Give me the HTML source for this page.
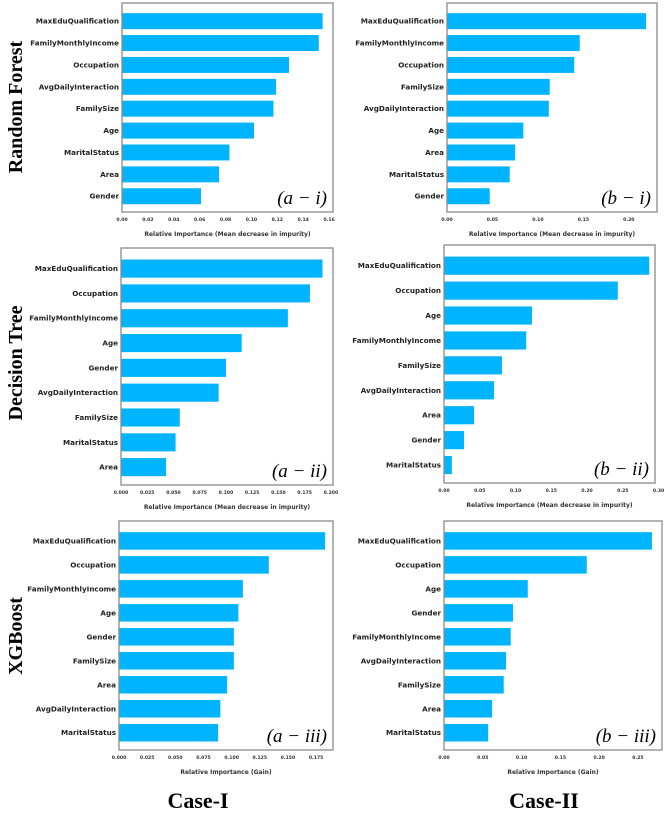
<!DOCTYPE html>
<html><head><meta charset="utf-8"><style>
html,body{margin:0;padding:0;background:#fff;}
svg{display:block;}
</style></head><body>
<svg id="fig" width="669" height="815" viewBox="0 0 669 815" xmlns="http://www.w3.org/2000/svg">
<g font-family="Liberation Serif, serif" font-weight="bold" font-size="20" fill="#000">
<text transform="translate(22,107) rotate(-90)" text-anchor="middle">Random Forest</text>
<text transform="translate(22,363) rotate(-90)" text-anchor="middle">Decision Tree</text>
<text transform="translate(22,636) rotate(-90)" text-anchor="middle">XGBoost</text>
<text x="198" y="808" text-anchor="middle" font-size="22">Case-I</text>
<text x="544" y="808" text-anchor="middle" font-size="22">Case-II</text>
</g>
</svg>
<script>
// Case-I Random Forest (a-i)
const catsAI = ["MaxEduQualification","FamilyMonthlyIncome","Occupation","AvgDailyInteraction","FamilySize","Age","MaritalStatus","Area","Gender"];
const valsAI = [0.155,0.152,0.129,0.119,0.117,0.102,0.083,0.075,0.061];
const ticksAI = [0,0.02,0.04,0.06,0.08,0.10,0.12,0.14,0.16];
// Case-II Random Forest (b-i)
const catsBI = ["MaxEduQualification","FamilyMonthlyIncome","Occupation","FamilySize","AvgDailyInteraction","Age","Area","MaritalStatus","Gender"];
const valsBI = [0.219,0.146,0.140,0.113,0.112,0.084,0.075,0.069,0.047];
const ticksBI = [0,0.05,0.10,0.15,0.20];
// Case-I Decision Tree (a-ii)
const catsAII = ["MaxEduQualification","Occupation","FamilyMonthlyIncome","Age","Gender","AvgDailyInteraction","FamilySize","MaritalStatus","Area"];
const valsAII = [0.192,0.180,0.159,0.115,0.100,0.093,0.056,0.052,0.043];
const ticksAII = [0,0.025,0.05,0.075,0.10,0.125,0.15,0.175,0.20];
// Case-II Decision Tree (b-ii)
const catsBII = ["MaxEduQualification","Occupation","Age","FamilyMonthlyIncome","FamilySize","AvgDailyInteraction","Area","Gender","MaritalStatus"];
const valsBII = [0.287,0.243,0.123,0.115,0.081,0.070,0.042,0.028,0.011];
const ticksBII = [0,0.05,0.10,0.15,0.20,0.25,0.30];
// Case-I XGBoost (a-iii)
const catsAIII = ["MaxEduQualification","Occupation","FamilyMonthlyIncome","Age","Gender","FamilySize","Area","AvgDailyInteraction","MaritalStatus"];
const valsAIII = [0.183,0.133,0.110,0.106,0.102,0.102,0.096,0.090,0.088];
const ticksAIII = [0,0.025,0.05,0.075,0.10,0.125,0.15,0.175];
// Case-II XGBoost (b-iii)
const catsBIII = ["MaxEduQualification","Occupation","Age","Gender","FamilyMonthlyIncome","AvgDailyInteraction","FamilySize","Area","MaritalStatus"];
const valsBIII = [0.268,0.184,0.108,0.089,0.086,0.080,0.077,0.062,0.057];
const ticksBIII = [0,0.05,0.10,0.15,0.20,0.25];

const NS = "http://www.w3.org/2000/svg";
const svg = document.getElementById('fig');
function mk(tag, attrs, parent){
  const e = document.createElementNS(NS, tag);
  for (const k in attrs) e.setAttribute(k, attrs[k]);
  parent.appendChild(e);
  return e;
}
function panel(id, L, R, T, B, xmax, cats, vals, ticks, dec, xlabel, tag){
  const g = mk('g', {}, svg);
  
  
  const x = v => L + (v / xmax) * (R - L);
  const h = B - T, step = h / 9.55, bh = step * 0.73;
  const y = i => T + step * (0.83 + i);
  cats.forEach((c, i) => {
    const r = mk('rect', {x: L, y: y(i) - bh/2, width: x(vals[i]) - L, height: bh, fill: '#00b4ff'}, g);
    
    
    const t = mk('text', {x: L - 3, y: y(i) + 2.5, 'text-anchor': 'end', 'font-family': 'DejaVu Sans, sans-serif', 'font-weight': 'bold', 'font-size': '7.2', fill: '#222'}, g);
    t.textContent = c;
    
    
  });
  const f = mk('rect', {x: L, y: T, width: R - L, height: h, fill: 'none', stroke: '#8a8a8a', 'stroke-width': '1.3'}, g);
  
  
  ticks.forEach(v => {
    const t = mk('text', {x: x(v), y: B + 9, 'text-anchor': 'middle', 'font-family': 'DejaVu Sans, sans-serif', 'font-weight': 'bold', 'font-size': '4.6', fill: '#333'}, g);
    t.textContent = v.toFixed(dec);
    
    
  });
  const xl = mk('text', {x: (L + R) / 2, y: B + 24, 'text-anchor': 'middle', 'font-family': 'DejaVu Sans, sans-serif', 'font-weight': 'bold', 'font-size': '6', fill: '#333'}, g);
  xl.textContent = xlabel;
  
  
  const tg = mk('text', {x: R - 6, y: B - 8, 'text-anchor': 'end', 'font-family': 'Liberation Serif, serif', 'font-style': 'italic', 'font-size': '19', fill: '#000'}, g);
  tg.textContent = tag;
  
  
}
const MDI = "Relative Importance (Mean decrease in impurity)";
const GAIN = "Relative Importance (Gain)";
panel('a-i', 122, 333, 3, 212, 0.163, catsAI, valsAI, ticksAI, 2, MDI, "(a − i)");
panel('b-i', 447, 657, 3, 212, 0.231, catsBI, valsBI, ticksBI, 2, MDI, "(b − i)");
panel('a-ii', 121, 333, 248, 485, 0.202, catsAII, valsAII, ticksAII, 3, MDI, "(a − ii)");
panel('b-ii', 444, 655, 245, 483, 0.295, catsBII, valsBII, ticksBII, 2, MDI, "(b − ii)");
panel('a-iii', 119, 333, 521, 750, 0.19, catsAIII, valsAIII, ticksAIII, 3, GAIN, "(a − iii)");
panel('b-iii', 444, 662, 521, 750, 0.281, catsBIII, valsBIII, ticksBIII, 2, GAIN, "(b − iii)");
</script>
</body></html>
